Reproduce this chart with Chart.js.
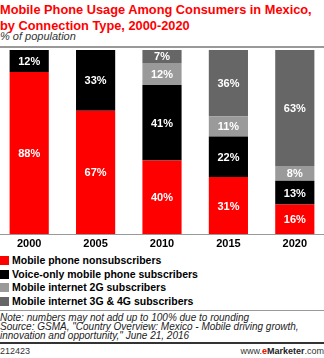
<!DOCTYPE html>
<html><head><meta charset="utf-8">
<script src="https://cdn.jsdelivr.net/npm/chart.js@4/dist/chart.umd.min.js"></script>
<style>
html,body{margin:0;padding:0;width:324px;height:358px;overflow:hidden;background:#fff;font-family:Arial,"Liberation Sans",sans-serif;}
.abs{position:absolute;white-space:nowrap;}
#t1,#t2{color:#ff0000;font-weight:bold;font-size:12.8px;line-height:15px;left:0;}
#t1{top:2px}#t2{top:17.5px}
#sub{top:30px;left:0;font-style:italic;font-size:11px;line-height:13px;color:#333;}
#hr1{top:46px;left:0;width:324px;height:2px;background:#999;}
#chartbox{position:absolute;top:48px;left:-4px;width:332px;height:204px;}
.leg{left:0;font-weight:bold;font-size:10.5px;color:#000;height:12px;line-height:12px;}
.sw{display:inline-block;width:9px;height:9px;vertical-align:-1px;margin-right:3px;}
#hr2{top:310px;left:0;width:324px;height:1px;background:#999;}
.note{left:0;font-style:italic;font-size:10px;line-height:10px;color:#222;}
#hr3{top:342px;left:0;width:324px;height:2px;background:#333;}
#id{top:346px;left:0;font-size:9px;line-height:10px;color:#333;}
#em{top:346px;right:0;font-size:9px;line-height:10px;color:#333;}
</style></head><body>
<div id="t1" class="abs">Mobile Phone Usage Among Consumers in Mexico,</div>
<div id="t2" class="abs">by Connection Type, 2000-2020</div>
<div id="sub" class="abs">% of population</div>
<div id="hr1" class="abs"></div>
<div id="chartbox"><canvas id="c"></canvas></div>
<div id="legend"></div>
<div id="hr2" class="abs"></div>
<div class="abs note" style="top:313px">Note: numbers may not add up to 100% due to rounding</div>
<div class="abs note" style="top:322px">Source: GSMA, "Country Overview: Mexico - Mobile driving growth,</div>
<div class="abs note" style="top:331px">innovation and opportunity," June 21, 2016</div>
<div id="hr3" class="abs"></div>
<div id="id" class="abs">212423</div>
<div id="em" class="abs">www.<span style="color:#e00;font-weight:bold">e</span><span style="font-weight:bold;color:#222">Marketer</span>.com</div>
<script>
const categories = ["2000","2005","2010","2015","2020"];
const nonsubscribers = [88,67,40,31,16];
const voiceOnly = [12,33,41,22,13];
const internet2G = [0,0,12,11,8];
const internet3G4G = [0,0,7,36,63];
const seriesNames = ["Mobile phone nonsubscribers","Voice-only mobile phone subscribers","Mobile internet 2G subscribers","Mobile internet 3G & 4G subscribers"];
const colors = ["#ff0000","#000000","#9a9a9a","#666666"];

const leg = document.getElementById('legend');
const legTops = [254,267.5,281,294.5];
seriesNames.forEach((n,i)=>{
  const d=document.createElement('div');d.className='abs leg';d.style.top=legTops[i]+'px';
  d.innerHTML='<span class="sw" style="background:'+colors[i]+'"></span>'+n.replace('&','&amp;');
  leg.appendChild(d);
});

const labelPlugin = {
  id:'segLabels',
  afterDatasetsDraw(chart){
    const ctx=chart.ctx;ctx.save();
    ctx.fillStyle='#fff';ctx.font='bold 11px Arial, "Liberation Sans", sans-serif';
    ctx.textAlign='center';ctx.textBaseline='middle';
    chart.data.datasets.forEach((ds,di)=>{
      const meta=chart.getDatasetMeta(di);
      meta.data.forEach((el,i)=>{
        const v=ds.data[i]; if(!v) return;
        ctx.fillText(v+'%', el.x, (el.y+el.base)/2+1);
      });
    });
    ctx.restore();
  }
};

const vals=[nonsubscribers,voiceOnly,internet2G,internet3G4G];
new Chart(document.getElementById('c'),{
  type:'bar',
  data:{labels:categories,datasets:vals.map((d,i)=>({label:seriesNames[i],data:d,backgroundColor:colors[i],borderWidth:0,barPercentage:0.59,categoryPercentage:1}))},
  options:{
    responsive:true,maintainAspectRatio:false,animation:false,
    layout:{padding:{top:2,left:0,right:0,bottom:0}},
    plugins:{legend:{display:false},tooltip:{enabled:false}},
    scales:{
      x:{stacked:true,grid:{display:false,drawTicks:false},border:{display:true,color:'#999',width:1},
         ticks:{color:'#000',font:{family:'Arial, "Liberation Sans", sans-serif',weight:'bold',size:11},padding:3},
         afterFit(s){s.height=18;}},
      y:{stacked:true,display:false,min:0,max:100}
    }
  },
  plugins:[labelPlugin]
});
</script>
</body></html>
